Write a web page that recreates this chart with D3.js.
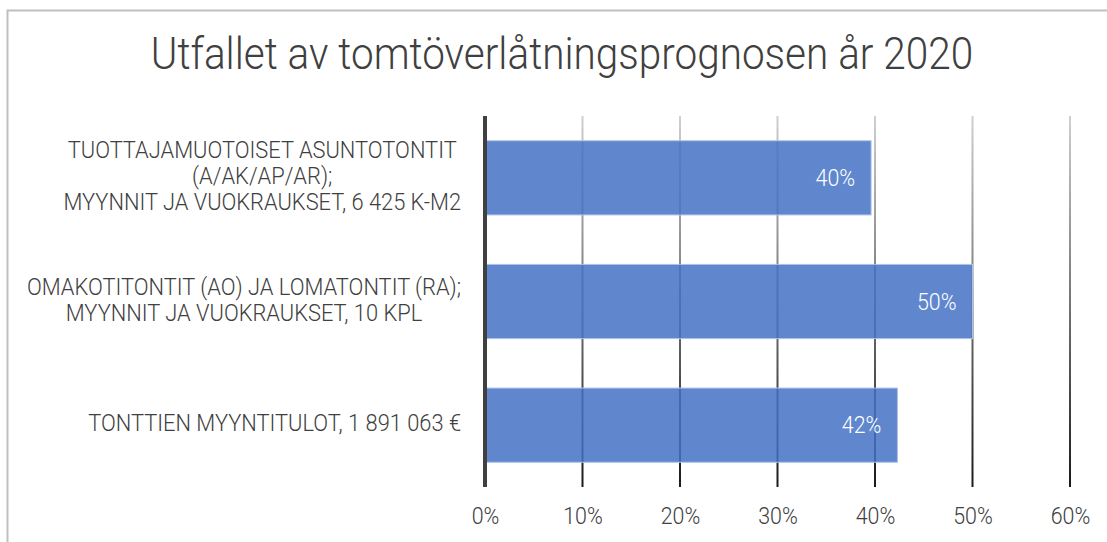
<!DOCTYPE html>
<html>
<head>
<meta charset="utf-8">
<script src="https://cdn.jsdelivr.net/npm/d3@7"></script>
<style>
  body { margin: 0; background: #fff; }
  svg { display: block; font-family: Roboto, "Liberation Sans", sans-serif; font-weight: 300; }
</style>
</head>
<body>
<div id="chart"></div>
<script>
// Chart data
const title = "Utfallet av tomtöverlåtningsprognosen år 2020";
const categories = [
    ["TUOTTAJAMUOTOISET ASUNTOTONTIT", "(A/AK/AP/AR);", "MYYNNIT JA VUOKRAUKSET, 6 425 K-M2"],
    ["OMAKOTITONTIT (AO) JA LOMATONTIT (RA);", "MYYNNIT JA VUOKRAUKSET, 10 KPL"],
    ["TONTTIEN MYYNTITULOT, 1 891 063 €"]
];
const values = [0.396, 0.50, 0.423];
const valueLabels = ["40%", "50%", "42%"];
const xTicks = [0, 0.1, 0.2, 0.3, 0.4, 0.5, 0.6];

const width = 1107;
const height = 542;
const m = { top: 116, right: 37, bottom: 55, left: 485 };

// The reference text is a bit narrower than Roboto; squeeze it horizontally
function condense(sel, k) {
    sel.each(function () {
        const len = this.getComputedTextLength();
        d3.select(this)
            .attr("data-w", len * k)
            .attr("textLength", len * k)
            .attr("lengthAdjust", "spacingAndGlyphs");
    });
}

const svg = d3.select("#chart").append("svg")
    .attr("width", width)
    .attr("height", height);

// Outer chart frame (only top/left edges fall inside the window)
svg.append("rect")
    .attr("x", 7.5)
    .attr("y", 10.5)
    .attr("width", width + 20)
    .attr("height", height + 20)
    .attr("fill", "none")
    .attr("stroke", "#bfbfbf")
    .attr("stroke-width", 2);

// Title
svg.append("text")
    .attr("x", 562)
    .attr("y", 69)
    .attr("text-anchor", "middle")
    .attr("font-size", 44)
    .attr("fill", "#404040")
    .text(title)
    .call(condense, 0.92);

// Scales
const xScale = d3.scaleLinear()
    .domain([0, 0.6])
    .range([m.left, width - m.right]);

const yScale = d3.scaleBand()
    .domain(d3.range(categories.length))
    .range([m.top, height - m.bottom])
    .paddingInner(0.4)
    .paddingOuter(0.2);

// Gridlines fade from light grey at the top to dark at the bottom
const grad = svg.append("defs").append("linearGradient")
    .attr("id", "grid-grad")
    .attr("gradientUnits", "userSpaceOnUse")
    .attr("x1", 0).attr("x2", 0)
    .attr("y1", m.top).attr("y2", height - m.bottom);
grad.append("stop").attr("offset", "0%").attr("stop-color", "#d0d0d0");
grad.append("stop").attr("offset", "100%").attr("stop-color", "#1a1a1a");

svg.append("g")
    .attr("class", "grid")
    .selectAll("rect")
    .data(xTicks.slice(1))
    .join("rect")
    .attr("x", d => xScale(d) - 1)
    .attr("y", m.top)
    .attr("width", 2)
    .attr("height", height - m.bottom - m.top)
    .attr("fill", "url(#grid-grad)");

// Bars (slightly transparent so gridlines show through)
svg.append("g")
    .selectAll("rect")
    .data(values)
    .join("rect")
    .attr("x", xScale(0))
    .attr("y", (d, i) => yScale(i))
    .attr("width", d => xScale(d) - xScale(0))
    .attr("height", yScale.bandwidth())
    .attr("fill", "rgba(68,114,196,0.85)")
    .attr("stroke", "#adc2e8")
    .attr("stroke-width", 1);

// Value labels, inside end
svg.append("g")
    .selectAll("text")
    .data(values)
    .join("text")
    .attr("x", d => xScale(d) - 16)
    .attr("y", (d, i) => yScale(i) + yScale.bandwidth() / 2 + 8)
    .attr("text-anchor", "end")
    .attr("font-size", 23)
    .attr("fill", "#fff")
    .text((d, i) => valueLabels[i])
    .call(condense, 0.93);

// Vertical axis line
svg.append("line")
    .attr("x1", xScale(0)).attr("x2", xScale(0))
    .attr("y1", m.top).attr("y2", height - m.bottom)
    .attr("stroke", "#404040")
    .attr("stroke-width", 4);

// Category labels: lines centered within block, block right-aligned near the axis
const labelRight = 461;
const lineH = 26;
categories.forEach((lines, i) => {
    const cy = yScale(i) + yScale.bandwidth() / 2;
    const g = svg.append("g");
    const texts = g.selectAll("text")
        .data(lines)
        .join("text")
        .attr("font-size", 23)
        .attr("fill", "#404040")
        .attr("text-anchor", "middle")
        .attr("x", 0)
        .attr("y", (d, j) => cy + (j - (lines.length - 1) / 2) * lineH + 6)
        .text(d => d)
        .call(condense, 0.95);
    const w = d3.max(texts.nodes(), n => +n.getAttribute("data-w"));
    g.attr("transform", `translate(${labelRight - w / 2}, 0)`);
});

// X axis tick labels
svg.append("g")
    .attr("transform", `translate(0, ${height - m.bottom})`)
    .call(d3.axisBottom(xScale).tickValues(xTicks).tickFormat(d3.format(".0%")).tickSize(0).tickPadding(21))
    .call(g => g.select(".domain").remove())
    .call(g => g.selectAll("text")
        .attr("font-family", "Roboto, 'Liberation Sans', sans-serif")
        .attr("font-weight", 300)
        .attr("font-size", 23)
        .attr("fill", "#404040")
        .call(condense, 0.93));
</script>
</body>
</html>
